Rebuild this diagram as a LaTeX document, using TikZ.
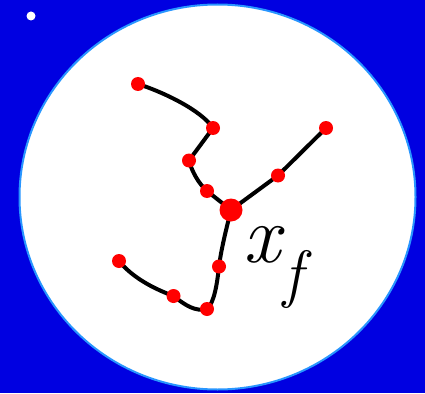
\documentclass[tikz,border=0pt]{standalone}
\definecolor{bgblue}{RGB}{0,0,225}
\definecolor{rimblue}{RGB}{40,150,255}
\definecolor{dotred}{RGB}{255,0,0}
\tikzset{
  dot/.style={circle,fill=dotred,inner sep=0pt,minimum size=14pt},
  bigdot/.style={circle,fill=dotred,inner sep=0pt,minimum size=23pt},
  edge/.style={line width=4pt,black,line cap=round}
}
\begin{document}
\begin{tikzpicture}[x=1pt,y=-1pt]
\fill[bgblue] (0,0) rectangle (425,393);
\useasboundingbox (0,0) rectangle (425,393);
\fill[white] (31,16) circle (4.5);
\draw[rimblue,fill=white,line width=2pt] (217.5,197) ellipse (198 and 192.5);
% dot positions
\coordinate (pA) at (138,84);
\coordinate (pB) at (213,128);
\coordinate (pC) at (189,160.5);
\coordinate (pD) at (207,191);
\coordinate (pE) at (231,210);
\coordinate (pF) at (278,175.5);
\coordinate (pG) at (326,128);
\coordinate (pH) at (219,266.5);
\coordinate (pI) at (119,261);
\coordinate (pJ) at (173.5,296);
\coordinate (pK) at (207,309);
% connectors
\draw[edge] (pA) .. controls (163,92) and (201,110) .. (pB);
\draw[edge] (pB) -- (pC);
\draw[edge] (pC) .. controls (192,172) and (199,184) .. (pD);
\draw[edge] (pD) -- (pE);
\draw[edge] (pE) -- (pF) -- (pG);
\draw[edge] (pE) .. controls (226,230) and (221,250) .. (pH);
\draw[edge] (pH) .. controls (217,285) and (214,303) .. (pK);
\draw[edge] (pK) .. controls (195,312) and (185,305) .. (pJ);
\draw[edge] (pJ) .. controls (152,288) and (132,277) .. (pI);
% dots
\node[dot] (A) at (pA) {};
\node[dot] (B) at (pB) {};
\node[dot] (C) at (pC) {};
\node[dot] (D) at (pD) {};
\node[bigdot] (E) at (pE) {};
\node[dot] (F) at (pF) {};
\node[dot] (G) at (pG) {};
\node[dot] (H) at (pH) {};
\node[dot] (I) at (pI) {};
\node[dot] (J) at (pJ) {};
\node[dot] (K) at (pK) {};
% label
\node[anchor=base west,inner sep=0pt] (xf) at (243,262)
  {\itshape\fontsize{82}{90}\selectfont x\kern3pt\raisebox{-33pt}{\fontsize{64}{70}\selectfont f}};
\end{tikzpicture}
\end{document}
